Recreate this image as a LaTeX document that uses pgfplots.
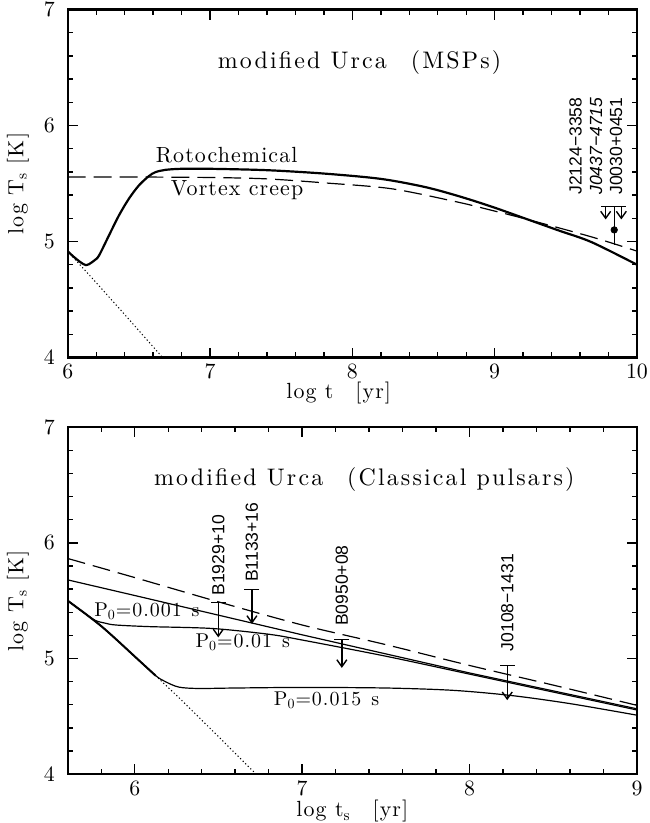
\documentclass[border=0pt]{standalone}
\usepackage{fontspec}
\usepackage{pgfplots}
\pgfplotsset{compat=1.18}
\usetikzlibrary{arrows.meta}
\newfontfamily\hv{Liberation Sans}
\newfontfamily\pg{lmroman10-regular.otf}[LetterSpace=9]
\newfontfamily\pgl{lmroman10-regular.otf}[LetterSpace=5]

\pgfplotsset{
  panel/.style={
    scale only axis, width=285.5pt,
    ymin=4, ymax=7, ytick={4,5,6,7}, minor y tick num=4,
    tick align=inside, major tick length=5pt, minor tick length=2.5pt,
    axis line style={line width=1.1pt},
    every tick/.style={black, line width=0.7pt},
    tick label style={font=\fontsize{10.5}{12}\selectfont},
    yticklabel style={xshift=-3pt},
    every axis y label/.style={at={(axis description cs:-0.0876,0.5)},rotate=90,anchor=center,font=\fontsize{11}{13}\selectfont\pgl},
    clip=false,
  },
  thinline/.style={black, line width=0.6pt},
  limarrow/.style={black, line width=0.7pt, -{Straight Barb[length=3.5pt,width=5pt]}},
}
\tikzset{psrlabel/.style={rotate=90, anchor=west, inner sep=0pt, font=\hv\fontsize{8.8}{10}\selectfont}}

\begin{document}
\begin{tikzpicture}
\useasboundingbox (-34pt,4.8pt) rectangle (292pt,-408pt);

% ---- top panel: MSPs
\begin{axis}[panel, at={(0,0)}, anchor=north west, height=174.5pt,
  xmin=6, xmax=10, xtick={6,7,8,9,10}, minor x tick num=4,
  xlabel={log\ t\quad[yr]}, ylabel={log T\textsubscript{s} [K]},
  every axis x label/.style={at={(axis description cs:0.476,-0.103)},anchor=center,font=\fontsize{11}{13}\selectfont\pgl},
]
% passive cooling
\addplot[black, line width=0.5pt, dash pattern=on 0.6pt off 1.2pt] coordinates {
(6.00,4.915) (6.20,4.645) (6.40,4.37) (6.666,4.00)
};
% rotochemical heating
\addplot[black, line width=1.1pt, smooth] coordinates {
(6.00,4.915) (6.04,4.87) (6.08,4.83) (6.11,4.805) (6.126,4.797) (6.15,4.805)
(6.19,4.84) (6.22,4.88) (6.29,5.054) (6.36,5.226) (6.43,5.37) (6.50,5.484)
(6.57,5.564) (6.616,5.598) (6.687,5.618) (6.80,5.627) (7.00,5.627) (7.40,5.615)
(7.81,5.585) (8.20,5.54) (8.51,5.47) (8.75,5.39) (8.98,5.30) (9.21,5.20)
(9.45,5.095) (9.68,4.995) (10.00,4.80)
};
% vortex creep
\addplot[black, line width=0.6pt, dash pattern=on 9pt off 4pt, smooth] coordinates {
(6.00,5.556) (6.50,5.556) (7.00,5.552) (7.40,5.54) (7.81,5.505) (8.275,5.455)
(8.74,5.34) (8.975,5.27) (9.21,5.197) (9.68,5.04) (10.00,4.917)
};
% upper limits J2124-3358, J0437-4715
\addplot[limarrow, quiver={u=0, v=\thisrow{dv}}] table[x=x, y=y] {
x y dv
9.78 5.30 -0.11
9.89 5.30 -0.11
};
\addplot[only marks, mark=-, mark size=2.2pt, mark options={line width=0.7pt}] coordinates {
(9.78,5.30) (9.84,5.30) (9.89,5.30)
};
% J0030+0451
\addplot[thinline, line width=0.7pt] coordinates {(9.84,4.97) (9.84,5.30)};
\addplot[only marks, mark=*, mark size=1.6pt] coordinates {(9.84,5.10)};

\node[font=\fontsize{12}{14}\selectfont\pg] at (axis cs:8.05,6.545) {modified Urca\quad(MSPs)};
\node[font=\fontsize{11}{13}\selectfont\pgl] at (axis cs:7.117,5.745) {Rotochemical};
\node[font=\fontsize{11}{13}\selectfont\pgl] at (axis cs:7.19,5.44) {Vortex creep};
\node[psrlabel] at (axis cs:9.569,5.40) {J2124−3358};
\node[psrlabel, font=\hv\itshape\fontsize{8.8}{10}\selectfont] at (axis cs:9.713,5.40) {J0437−4715};
\node[psrlabel] at (axis cs:9.853,5.40) {J0030+0451};
\end{axis}

% ---- bottom panel: classical pulsars
\begin{axis}[panel, at={(0,-209.5pt)}, anchor=north west, height=174pt,
  xmin=5.6, xmax=9, xtick={6,7,8,9},
  minor xtick={5.8,6.2,6.4,6.6,6.8,7.2,7.4,7.6,7.8,8.2,8.4,8.6,8.8},
  xlabel={log\ t\textsubscript{s}\quad[yr]}, ylabel={log T\textsubscript{s} [K]},
  every axis x label/.style={at={(axis description cs:0.5,-0.107)},anchor=center,font=\fontsize{11}{13}\selectfont\pgl},
]
% passive cooling
\addplot[black, line width=0.5pt, dash pattern=on 0.6pt off 1.2pt] coordinates {
(6.124,4.853) (6.27,4.653) (6.50,4.325) (6.725,4.00)
};
\addplot[black, line width=1.0pt, smooth] coordinates {
(5.60,5.50) (5.707,5.385) (5.80,5.28) (5.886,5.17) (6.005,5.011) (6.124,4.853)
};
% P0 = 0.015 s
\addplot[thinline, smooth] coordinates {
(5.60,5.50) (5.707,5.385) (5.80,5.28) (5.886,5.17) (6.005,5.011) (6.124,4.853)
(6.183,4.80) (6.263,4.753) (6.38,4.741) (6.60,4.745) (7.00,4.75) (7.50,4.745)
(7.90,4.725) (8.25,4.68) (8.60,4.61) (9.00,4.51)
};
% P0 = 0.01 s
\addplot[thinline, smooth] coordinates {
(5.60,5.50) (5.65,5.445) (5.707,5.385) (5.767,5.328) (5.826,5.305) (5.886,5.29)
(6.084,5.276) (6.46,5.26) (6.80,5.21) (7.00,5.16) (7.50,5.02) (8.00,4.865)
(8.50,4.71) (9.00,4.555)
};
% P0 = 0.001 s
\addplot[thinline] coordinates {
(5.60,5.68) (6.00,5.545) (6.50,5.375) (7.00,5.205) (7.50,5.04) (8.00,4.875)
(8.50,4.72) (9.00,4.565)
};
% vortex creep
\addplot[black, line width=0.6pt, dash pattern=on 9pt off 4pt, smooth] coordinates {
(5.60,5.865) (6.00,5.70) (6.50,5.49) (7.00,5.29) (7.50,5.12) (8.00,4.94)
(8.50,4.77) (9.00,4.595)
};
% upper limits
\addplot[limarrow, quiver={u=0, v=\thisrow{dv}}] table[x=x, y=y] {
x y dv
6.499 5.483 -0.30
6.700 5.595 -0.295
7.237 5.164 -0.245
8.225 4.940 -0.30
};
\addplot[only marks, mark=-, mark size=3.75pt, mark options={line width=0.7pt}] coordinates {
(6.499,5.483) (6.700,5.595) (7.237,5.164) (8.225,4.940)
};

\node[font=\fontsize{12}{14}\selectfont\pg] at (axis cs:7.371,6.55) {modified Urca\quad(Classical pulsars)};
\node[font=\fontsize{10}{12}\selectfont\pgl] at (axis cs:6.073,5.41) {P\textsubscript{0}=0.001\enskip s};
\node[font=\fontsize{10}{12}\selectfont\pgl] at (axis cs:6.645,5.138) {P\textsubscript{0}=0.01\enskip s};
\node[font=\fontsize{10}{12}\selectfont\pgl] at (axis cs:7.146,4.64) {P\textsubscript{0}=0.015\enskip s};
\node[psrlabel] at (axis cs:6.499,5.54) {B1929+10};
\node[psrlabel] at (axis cs:6.700,5.66) {B1133+16};
\node[psrlabel] at (axis cs:7.237,5.28) {B0950+08};
\node[psrlabel] at (axis cs:8.225,5.06) {J0108−1431};
\end{axis}
\end{tikzpicture}
\end{document}
